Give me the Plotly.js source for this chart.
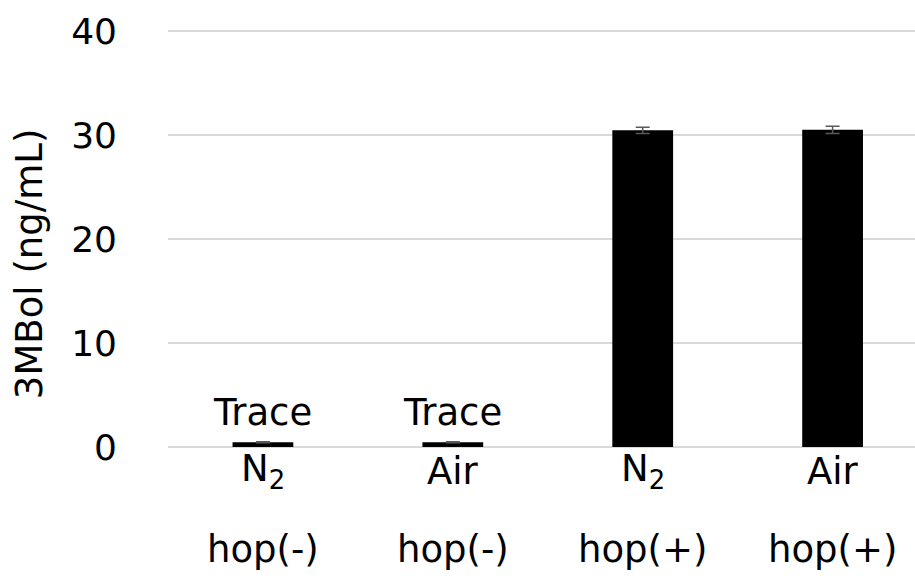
<!DOCTYPE html>
<html>
<head>
<meta charset="utf-8">
<script src="https://cdn.plot.ly/plotly-3.0.1.min.js"></script>
<style>html,body{margin:0;padding:0;background:#fff;}#chart{width:915px;height:584px;}</style>
</head>
<body>
<div id="chart"></div>
<script>
// Data
const categories = ["N2 hop(-)", "Air hop(-)", "N2 hop(+)", "Air hop(+)"];
const gasLabels = ["N<sub>2</sub>", "Air", "N<sub>2</sub>", "Air"];
const hopLabels = ["hop(-)", "hop(-)", "hop(+)", "hop(+)"];
const values = [0.45, 0.45, 30.45, 30.5];
const errors = [0.05, 0.05, 0.3, 0.35];
const barLabels = ["Trace", "Trace", "", ""];
const yTickVals = [0, 10, 20, 30, 40];
const yTitle = "3MBol (ng/mL)";

const FONT = "DejaVu Sans";
const FS = 37;
const TFS = 36;

const trace = {
  type: "bar",
  x: categories,
  y: values,
  width: 0.32,
  marker: {color: "#000000", line: {color: "#000000", width: 0}},
  error_y: {type: "data", array: errors, visible: true, color: "#595959", thickness: 1.5, width: 7},
  hoverinfo: "none"
};

const annotations = [];
categories.forEach((c, i) => {
  annotations.push({x: c, xref: "x", y: -0.056, yref: "paper", text: gasLabels[i], showarrow: false,
    xanchor: "center", yanchor: "middle", font: {family: FONT, size: FS, color: "#000"}});
  annotations.push({x: c, xref: "x", y: -0.243, yref: "paper", text: hopLabels[i], showarrow: false,
    xanchor: "center", yanchor: "middle", font: {family: FONT, size: FS, color: "#000"}});
  if (barLabels[i]) {
    annotations.push({x: c, xref: "x", y: values[i], yref: "y", text: barLabels[i], showarrow: false,
      xanchor: "center", yanchor: "bottom", yshift: 6, font: {family: FONT, size: FS, color: "#000"}});
  }
});
annotations.push({x: -0.186, xref: "paper", y: 0.44, yref: "paper", text: yTitle, textangle: -90,
  showarrow: false, xanchor: "center", yanchor: "middle", font: {family: FONT, size: FS, color: "#000"}});

const layout = {
  width: 915, height: 584,
  margin: {l: 168, r: 0, t: 29.66, b: 136.26, pad: 0},
  paper_bgcolor: "#ffffff", plot_bgcolor: "#ffffff",
  showlegend: false,
  font: {family: FONT, size: FS, color: "#000"},
  xaxis: {type: "category", range: [-0.5, 3.434], showticklabels: false, showgrid: false,
    zeroline: false, showline: false, ticks: ""},
  yaxis: {range: [-0.1, 40.1], tickvals: yTickVals, showgrid: true, gridcolor: "#d9d9d9", gridwidth: 2,
    zeroline: false, showline: false, ticks: "", ticklabelstandoff: 50,
    tickfont: {family: FONT, size: TFS, color: "#000"}},
  annotations: annotations
};

Plotly.newPlot("chart", [trace], layout, {displayModeBar: false, staticPlot: true});
</script>
</body>
</html>
